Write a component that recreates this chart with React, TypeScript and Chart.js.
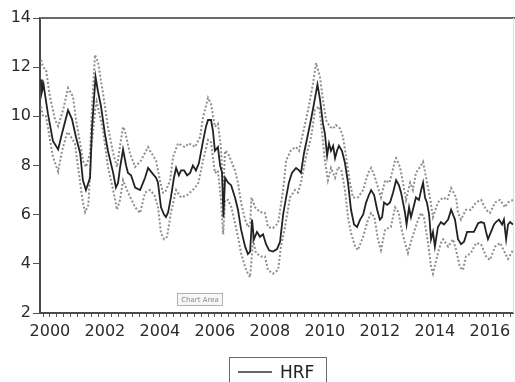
import React, { useEffect, useRef } from "react";
import { Chart, registerables } from "chart.js";

Chart.register(...registerables);

// HRF (solid line)
const hrfDates = [
  1999.68, 1999.71, 1999.77, 1999.82, 1999.93, 2000.11, 2000.30, 2000.44, 2000.66, 2000.80,
  2000.95, 2001.10, 2001.20, 2001.31, 2001.46, 2001.53, 2001.66, 2001.75, 2001.86, 2002.00,
  2002.11, 2002.30, 2002.40, 2002.48, 2002.55, 2002.66, 2002.77, 2002.84, 2002.95, 2003.10,
  2003.28, 2003.39, 2003.46, 2003.57, 2003.64, 2003.75, 2003.86, 2003.93, 2004.04, 2004.15,
  2004.22, 2004.30, 2004.40, 2004.51, 2004.59, 2004.69, 2004.77, 2004.88, 2004.99, 2005.10,
  2005.20, 2005.31, 2005.42, 2005.57, 2005.68, 2005.75, 2005.86, 2005.93, 2006.00, 2006.11,
  2006.19, 2006.26, 2006.31, 2006.37, 2006.48, 2006.59, 2006.73, 2006.84, 2006.95, 2007.10,
  2007.20, 2007.28, 2007.35, 2007.42, 2007.53, 2007.64, 2007.75, 2007.86, 2007.97, 2008.11,
  2008.26, 2008.37, 2008.48, 2008.59, 2008.69, 2008.80, 2008.95, 2009.06, 2009.13, 2009.24,
  2009.39, 2009.50, 2009.60, 2009.73, 2009.82, 2009.93, 2010.00, 2010.08, 2010.15, 2010.22,
  2010.30, 2010.37, 2010.44, 2010.51, 2010.62, 2010.73, 2010.84, 2010.95, 2011.06, 2011.17,
  2011.28, 2011.39, 2011.50, 2011.60, 2011.68, 2011.79, 2011.90, 2012.00, 2012.08, 2012.15,
  2012.26, 2012.37, 2012.48, 2012.59, 2012.69, 2012.77, 2012.84, 2012.91, 2012.97, 2013.06,
  2013.13, 2013.20, 2013.31, 2013.42, 2013.50, 2013.57, 2013.64, 2013.71, 2013.79, 2013.86,
  2013.93, 2014.00, 2014.11, 2014.22, 2014.33, 2014.48, 2014.59, 2014.66, 2014.73, 2014.84,
  2014.95, 2015.06, 2015.17, 2015.31, 2015.42, 2015.57, 2015.68, 2015.79, 2015.86, 2015.93,
  2016.04, 2016.15, 2016.22, 2016.33, 2016.44, 2016.51, 2016.59, 2016.66, 2016.73, 2016.84,
];
const hrfValues = [
  11.5, 11.0, 11.3, 10.9, 10.1, 9.0, 8.65, 9.3, 10.25, 9.9,
  9.15, 8.5, 7.4, 7.0, 7.5, 9.5, 11.6, 11.0, 10.4, 9.3,
  8.6, 7.7, 7.1, 7.3, 7.9, 8.65, 8.0, 7.7, 7.6, 7.1,
  7.0, 7.3, 7.5, 7.9, 7.8, 7.65, 7.5, 7.3, 6.3, 6.0,
  5.9, 6.1, 6.7, 7.5, 7.9, 7.6, 7.8, 7.8, 7.6, 7.7,
  8.0, 7.8, 8.1, 9.0, 9.6, 9.85, 9.85, 9.4, 8.6, 8.75,
  8.0, 7.7, 5.9, 7.5, 7.3, 7.2, 6.7, 6.2, 5.4, 4.7,
  4.4, 4.5, 5.8, 5.0, 5.3, 5.1, 5.2, 4.8, 4.55, 4.5,
  4.6, 4.9, 6.0, 6.7, 7.3, 7.7, 7.9, 7.8, 7.7, 8.5,
  9.3, 9.9, 10.5, 11.3, 10.7, 9.7, 9.3, 8.4, 8.9, 8.6,
  8.8, 8.3, 8.6, 8.8, 8.6, 8.1, 7.3, 6.2, 5.6, 5.5,
  5.8, 6.0, 6.5, 6.8, 7.0, 6.8, 6.2, 5.8, 5.9, 6.5,
  6.4, 6.5, 6.9, 7.4, 7.2, 6.9, 6.5, 6.1, 5.6, 6.3,
  5.9, 6.2, 6.7, 6.6, 7.0, 7.3, 6.7, 6.5, 6.0, 5.0,
  5.3, 4.7, 5.5, 5.7, 5.6, 5.8, 6.2, 6.0, 5.8, 5.0,
  4.8, 4.9, 5.3, 5.3, 5.3, 5.65, 5.7, 5.65, 5.3, 5.0,
  5.3, 5.6, 5.7, 5.8, 5.6, 5.8, 5.0, 5.6, 5.7, 5.6,
];

// Upper band (dotted)
const upperDates = [
  1999.68, 1999.75, 1999.86, 2000.00, 2000.19, 2000.30, 2000.48, 2000.66, 2000.84, 2000.95,
  2001.10, 2001.20, 2001.31, 2001.46, 2001.53, 2001.64, 2001.75, 2001.93, 2002.11, 2002.30,
  2002.44, 2002.55, 2002.66, 2002.73, 2002.91, 2003.10, 2003.31, 2003.57, 2003.64, 2003.86,
  2004.00, 2004.11, 2004.19, 2004.37, 2004.48, 2004.66, 2004.91, 2005.05, 2005.28, 2005.46,
  2005.57, 2005.75, 2005.86, 2006.00, 2006.11, 2006.22, 2006.30, 2006.37, 2006.48, 2006.73,
  2006.84, 2006.95, 2007.10, 2007.20, 2007.28, 2007.33, 2007.46, 2007.64, 2007.82, 2007.93,
  2008.11, 2008.30, 2008.48, 2008.59, 2008.77, 2008.95, 2009.06, 2009.20, 2009.39, 2009.57,
  2009.68, 2009.82, 2009.93, 2010.04, 2010.19, 2010.30, 2010.40, 2010.55, 2010.66, 2010.77,
  2010.91, 2011.02, 2011.20, 2011.39, 2011.57, 2011.68, 2011.80, 2011.93, 2012.04, 2012.19,
  2012.35, 2012.55, 2012.59, 2012.73, 2012.84, 2012.95, 2013.10, 2013.20, 2013.31, 2013.46,
  2013.57, 2013.68, 2013.82, 2013.93, 2014.11, 2014.30, 2014.45, 2014.59, 2014.77, 2014.84,
  2014.95, 2015.13, 2015.31, 2015.50, 2015.68, 2015.86, 2016.00, 2016.19, 2016.37, 2016.55,
  2016.66, 2016.84,
];
const upperValues = [
  12.3, 12.0, 11.9, 10.8, 9.85, 9.6, 10.26, 11.15, 10.8, 9.85,
  8.9, 8.2, 7.94, 8.5, 10.3, 12.5, 12.2, 10.95, 9.57, 8.5,
  7.94, 8.8, 9.57, 9.4, 8.5, 7.94, 8.2, 8.75, 8.6, 8.2,
  7.4, 6.9, 6.9, 7.4, 8.35, 8.9, 8.75, 8.9, 8.75, 9.16,
  9.97, 10.75, 10.5, 9.57, 9.7, 8.75, 6.9, 8.6, 8.5, 7.8,
  7.3, 6.5, 5.8, 5.5, 5.6, 6.7, 6.3, 6.1, 6.07, 5.5,
  5.45, 5.66, 7.0, 8.2, 8.63, 8.75, 8.6, 9.3, 10.26, 11.35,
  12.17, 11.6, 10.66, 9.85, 9.57, 9.5, 9.65, 9.5, 9.16, 8.35,
  7.3, 6.7, 6.7, 7.0, 7.7, 7.9, 7.6, 7.1, 6.7, 7.4,
  7.3, 8.2, 8.3, 7.94, 7.3, 6.6, 7.3, 7.0, 7.7, 7.94,
  8.15, 7.5, 6.7, 5.9, 6.5, 6.7, 6.6, 7.08, 6.7, 6.07,
  5.8, 6.2, 6.2, 6.5, 6.6, 6.2, 6.07, 6.5, 6.6, 6.3,
  6.5, 6.6,
];

// Lower band (dotted)
const lowerDates = [
  1999.68, 1999.75, 1999.86, 2000.11, 2000.30, 2000.44, 2000.62, 2000.66, 2000.91, 2001.10,
  2001.20, 2001.28, 2001.40, 2001.50, 2001.64, 2001.70, 2001.93, 2002.11, 2002.30, 2002.44,
  2002.55, 2002.66, 2002.84, 2003.10, 2003.28, 2003.46, 2003.64, 2003.80, 2003.93, 2004.04,
  2004.15, 2004.26, 2004.40, 2004.59, 2004.77, 2005.00, 2005.28, 2005.40, 2005.57, 2005.75,
  2005.86, 2006.00, 2006.11, 2006.22, 2006.30, 2006.37, 2006.48, 2006.60, 2006.73, 2006.84,
  2006.95, 2007.10, 2007.20, 2007.28, 2007.39, 2007.49, 2007.68, 2007.82, 2007.93, 2008.11,
  2008.30, 2008.40, 2008.55, 2008.73, 2008.91, 2009.02, 2009.13, 2009.31, 2009.50, 2009.64,
  2009.79, 2009.90, 2010.00, 2010.11, 2010.22, 2010.37, 2010.48, 2010.60, 2010.73, 2010.84,
  2010.95, 2011.10, 2011.20, 2011.39, 2011.57, 2011.68, 2011.80, 2011.93, 2012.04, 2012.19,
  2012.40, 2012.55, 2012.68, 2012.77, 2012.91, 2013.02, 2013.13, 2013.27, 2013.39, 2013.50,
  2013.60, 2013.75, 2013.86, 2013.93, 2014.11, 2014.22, 2014.30, 2014.48, 2014.66, 2014.77,
  2014.91, 2015.02, 2015.13, 2015.31, 2015.50, 2015.68, 2015.86, 2016.00, 2016.19, 2016.37,
  2016.55, 2016.66, 2016.84,
];
const lowerValues = [
  10.4, 10.0, 10.0, 8.35, 7.75, 8.6, 9.3, 9.36, 8.9, 7.3,
  6.5, 6.1, 6.4, 8.6, 10.2, 10.6, 9.45, 7.94, 7.0, 6.2,
  6.6, 7.4, 6.9, 6.3, 6.07, 6.9, 7.0, 6.8, 6.3, 5.25,
  5.0, 5.1, 6.07, 7.0, 6.7, 6.8, 7.1, 7.3, 8.2, 9.04,
  8.95, 7.7, 7.8, 6.6, 5.2, 6.6, 6.6, 6.3, 5.66, 5.1,
  4.44, 3.87, 3.6, 3.46, 5.0, 4.44, 4.3, 4.3, 3.75, 3.6,
  3.75, 4.7, 5.5, 6.7, 7.0, 6.9, 7.3, 8.35, 9.16, 10.26,
  10.4, 9.3, 8.2, 7.4, 7.9, 7.5, 7.94, 7.8, 7.0, 5.9,
  5.25, 4.7, 4.56, 5.1, 5.8, 6.07, 5.9, 5.0, 4.56, 5.4,
  5.5, 6.3, 6.1, 5.5, 4.85, 4.44, 4.9, 5.4, 5.8, 6.07,
  5.9, 4.85, 3.87, 3.6, 4.44, 4.85, 5.0, 4.7, 5.0, 4.56,
  3.87, 3.75, 4.3, 4.44, 4.85, 4.8, 4.3, 4.16, 4.7, 4.85,
  4.44, 4.2, 4.56,
];

const yTickValues = [2, 4, 6, 8, 10, 12, 14];
const xLabelYears = [2000, 2002, 2004, 2006, 2008, 2010, 2012, 2014, 2016];
const X_MIN = 1999.64;
const X_MAX = 2016.84;
const legendLabel = "HRF";
const chartAreaTag = "Chart Area";

const FONT = "'DejaVu Sans', sans-serif";

export default function App() {
  const ref = useRef<HTMLCanvasElement>(null);

  useEffect(() => {
    const toXY = (d: number[], v: number[]) => d.map((x, i) => ({ x, y: v[i] }));

    const decorPlugin = {
      id: "decor",
      afterDraw(chart: any) {
        const ctx = chart.ctx;
        const a = chart.chartArea;
        ctx.save();
        // top frame
        ctx.strokeStyle = "#6a6a6a";
        ctx.lineWidth = 2;
        ctx.beginPath();
        ctx.moveTo(a.left, a.top);
        ctx.lineTo(515, a.top);
        ctx.stroke();
        // faint right edge
        ctx.strokeStyle = "#e2e2e2";
        ctx.lineWidth = 1;
        ctx.beginPath();
        ctx.moveTo(a.right + 0.5, a.top);
        ctx.lineTo(a.right + 0.5, a.bottom);
        ctx.stroke();

        // "Chart Area" tag
        ctx.fillStyle = "#f7f7f7";
        ctx.fillRect(177.5, 293.5, 45, 12);
        ctx.strokeStyle = "#b0b0b0";
        ctx.strokeRect(177.5, 293.5, 45, 12);
        ctx.fillStyle = "#8a8a8a";
        ctx.font = "7px " + FONT;
        ctx.textAlign = "center";
        ctx.textBaseline = "middle";
        ctx.fillText(chartAreaTag, 200, 300);

        // legend box
        ctx.strokeStyle = "#6a6a6a";
        ctx.lineWidth = 1;
        ctx.strokeRect(229.5, 357.5, 97, 30);
        ctx.strokeStyle = "#333";
        ctx.lineWidth = 1.5;
        ctx.beginPath();
        ctx.moveTo(238, 372);
        ctx.lineTo(272, 372);
        ctx.stroke();
        ctx.fillStyle = "#222";
        ctx.font = "17px " + FONT;
        ctx.textAlign = "left";
        ctx.textBaseline = "alphabetic";
        ctx.fillText(legendLabel, 280, 378);
        ctx.restore();
      },
    };

    const chart = new Chart(ref.current as HTMLCanvasElement, {
      type: "line",
      data: {
        datasets: [
          {
            label: "HRF",
            data: toXY(hrfDates, hrfValues),
            borderColor: "#222222",
            borderWidth: 1.8,
            pointRadius: 0,
            tension: 0,
          },
          {
            label: "upper",
            data: toXY(upperDates, upperValues),
            borderColor: "#8e8e8e",
            borderWidth: 2,
            borderDash: [2, 2],
            pointRadius: 0,
            tension: 0,
          },
          {
            label: "lower",
            data: toXY(lowerDates, lowerValues),
            borderColor: "#8e8e8e",
            borderWidth: 2,
            borderDash: [2, 2],
            pointRadius: 0,
            tension: 0,
          },
        ],
      },
      options: {
        animation: false,
        responsive: false,
        events: [],
        layout: { padding: { top: 18, right: 2, left: 0, bottom: 0 } },
        plugins: { legend: { display: false }, tooltip: { enabled: false } },
        scales: {
          x: {
            type: "linear",
            min: X_MIN,
            max: X_MAX,
            afterBuildTicks: (s: any) => {
              const ticks = [];
              for (let k = Math.ceil(X_MIN * 4); k <= Math.floor(X_MAX * 4); k++) {
                ticks.push({ value: k / 4 });
              }
              s.ticks = ticks;
            },
            ticks: {
              autoSkip: false,
              maxRotation: 0,
              minRotation: 0,
              padding: 5,
              color: "#2b2b2b",
              font: { family: FONT, size: 16 },
              callback: (v: any) => {
                const n = Number(v);
                return xLabelYears.includes(n) ? String(n) : "";
              },
            },
            grid: {
              drawOnChartArea: false,
              drawTicks: true,
              tickLength: 4,
              color: "#555",
              lineWidth: 1,
            },
            border: { display: true, color: "#4a4a4a", width: 2 },
            afterFit: (s: any) => {
              s.height = 69;
              s.paddingLeft = 0;
              s.paddingRight = 0;
            },
          },
          y: {
            type: "linear",
            min: 2,
            max: 14,
            afterBuildTicks: (s: any) => {
              s.ticks = yTickValues.map((v) => ({ value: v }));
            },
            ticks: {
              padding: 2,
              color: "#2b2b2b",
              font: { family: FONT, size: 16 },
            },
            grid: {
              drawOnChartArea: false,
              drawTicks: true,
              tickLength: 7,
              color: "#555",
              lineWidth: 1,
            },
            border: { display: true, color: "#4a4a4a", width: 2 },
            afterFit: (s: any) => {
              s.width = 40;
              s.paddingTop = 0;
              s.paddingBottom = 0;
            },
          },
        },
      },
      plugins: [decorPlugin],
    } as any);

    return () => chart.destroy();
  }, []);

  return (
    <div
      style={{
        position: "absolute",
        left: 0,
        top: 0,
        width: 515,
        height: 382,
        background: "#fff",
      }}
    >
      <canvas ref={ref} width={515} height={382} style={{ display: "block" }} />
    </div>
  );
}
